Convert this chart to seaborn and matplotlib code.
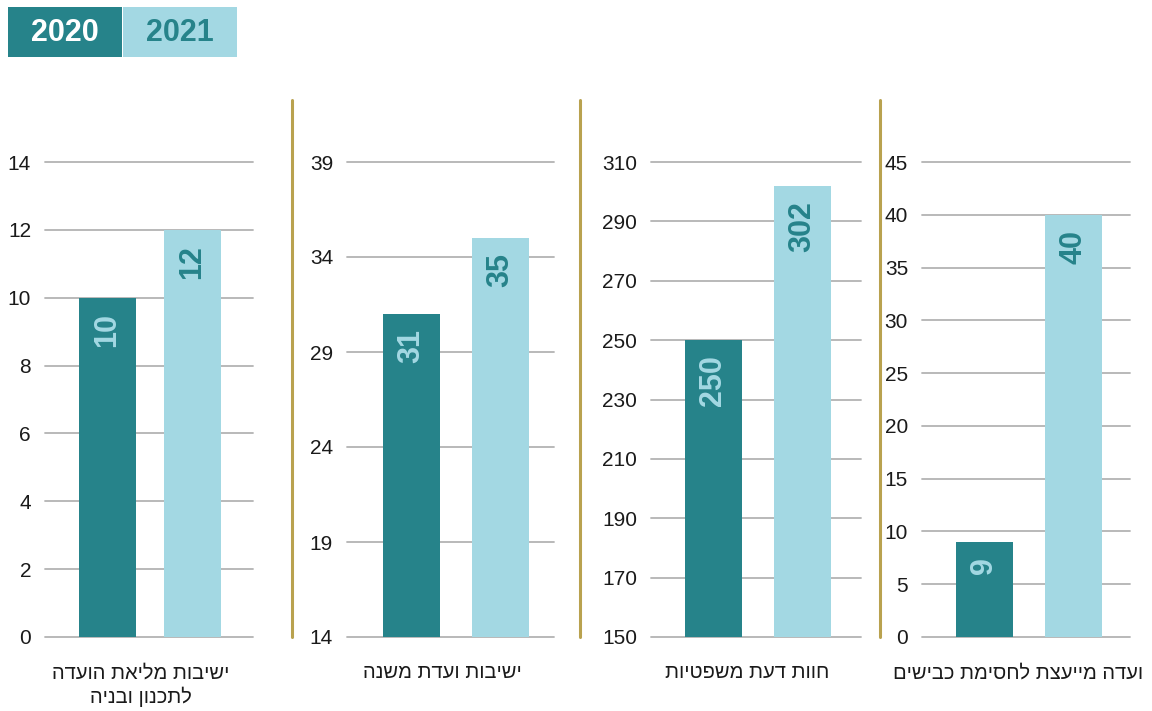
import matplotlib
matplotlib.use("Agg")
import matplotlib.pyplot as plt
import seaborn as sns
import pandas as pd
from matplotlib.lines import Line2D
from matplotlib.patches import Rectangle

years = ["2020", "2021"]
categories = [
    ["ישיבות מליאת הועדה", "לתכנון ובניה"],
    ["ישיבות ועדת משנה"],
    ["חוות דעת משפטיות"],
    ["ועדה מייעצת לחסימת כבישים"],
]
values_2020 = [10, 31, 250, 9]
values_2021 = [12, 35, 302, 40]
y_ranges = [(0, 14, 2), (14, 39, 5), (150, 310, 20), (0, 45, 5)]

dark = "#26838A"
light = "#A3D8E3"
gold = "#B9A24F"

sns.set_style("white")
plt.rcParams["font.family"] = ["Liberation Sans Narrow", "Liberation Sans", "DejaVu Sans"]

W, H = 1152, 711
fig = plt.figure(figsize=(W / 100, H / 100), dpi=100)

# panel layout: pixel extent (left, right), x limits, bar width
panels_px = [(45, 253), (347, 554), (651, 861), (922, 1130)]
xlims = [(-0.735, 1.712), (-0.725, 1.60), (-0.702, 1.657), (-0.702, 1.635)]
bar_w = [0.67, 0.64, 0.64, 0.64]
bottom_px, top_px = 637, 162

def heb(s):
    # matplotlib has no bidi, so reverse Hebrew to visual order
    return s[::-1]

for i, (x0, x1) in enumerate(panels_px):
    ax = fig.add_axes([x0 / W, 1 - bottom_px / H, (x1 - x0) / W, (bottom_px - top_px) / H])
    df = pd.DataFrame({"year": years, "value": [values_2020[i], values_2021[i]]})
    sns.barplot(data=df, x="year", y="value", hue="year", palette=[dark, light],
                width=bar_w[i], legend=False, ax=ax, saturation=1, linewidth=0)
    lo, hi, step = y_ranges[i]
    ax.set_ylim(lo, hi)
    ax.set_xlim(*xlims[i])
    ax.set_yticks(range(lo, hi + 1, step))
    ax.yaxis.grid(True, color="#b3b3b3", linewidth=1.3)
    ax.set_axisbelow(True)
    for gl in ax.get_ygridlines():
        gl.set_clip_on(False)
    for s in ax.spines.values():
        s.set_visible(False)
    ax.tick_params(axis="y", length=0, pad=10, labelsize=15, labelcolor="#1a1a1a")
    ax.set_xticks([])
    ax.set_xlabel("")
    ax.set_ylabel("")
    for j, v in enumerate(df["value"]):
        ax.annotate(str(v), xy=(j, v), xytext=(0, -11), textcoords="offset points",
                    ha="center", va="top", rotation=90, fontsize=22, fontweight="bold",
                    color=light if j == 0 else dark)
    label = "\n".join(heb(line) for line in categories[i])
    ax.text(0.46, -0.055, label, transform=ax.transAxes,
            ha="center", va="top", fontsize=14.5, color="#1a1a1a", linespacing=1.25)

# dividers
for xd in [292, 580, 880]:
    fig.add_artist(Line2D([xd / W, xd / W], [1 - 637 / H, 1 - 100 / H], color=gold, linewidth=2.2))

# legend boxes
boxes = [(8, 122, dark, "white"), (123, 237, light, dark)]
for (bx0, bx1, fc, tc), yr in zip(boxes, years):
    fig.add_artist(Rectangle((bx0 / W, 1 - 57 / H), (bx1 - bx0) / W, 50 / H,
                             transform=fig.transFigure, facecolor=fc, edgecolor="none"))
    fig.text((bx0 + bx1) / 2 / W, 1 - 33 / H, yr, ha="center", va="center",
             fontsize=22, fontweight="bold", color=tc)

fig.savefig("out.png", dpi=100)
